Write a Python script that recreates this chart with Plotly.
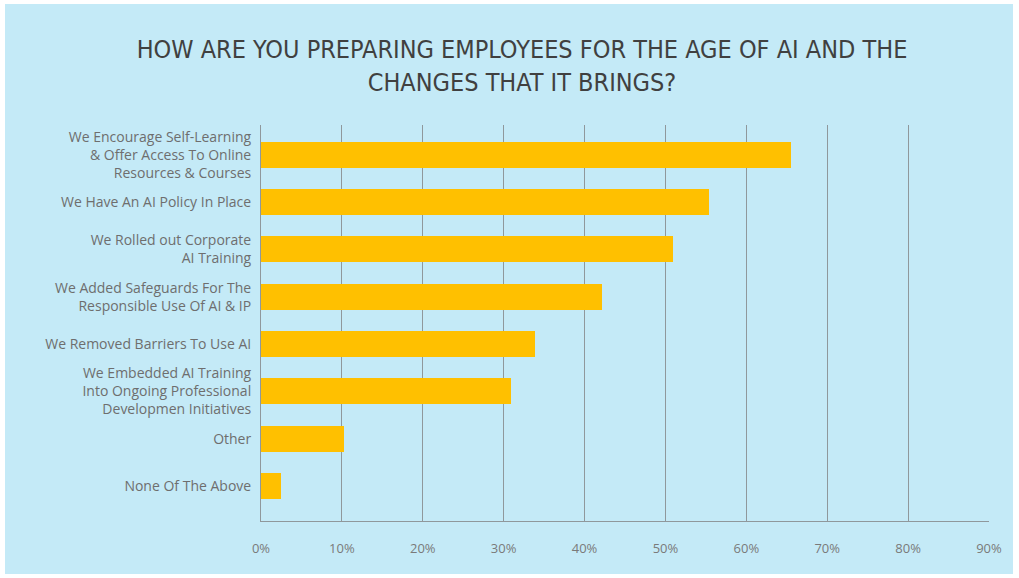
import plotly.graph_objects as go

# Survey answers, listed top to bottom
categories = [
    "We Encourage Self-Learning<br>& Offer Access To Online<br>Resources & Courses",
    "We Have An AI Policy In Place",
    "We Rolled out Corporate<br>AI Training",
    "We Added Safeguards For The<br>Responsible Use Of AI & IP",
    "We Removed Barriers To Use AI",
    "We Embedded AI Training<br>Into Ongoing Professional<br>Developmen Initiatives",
    "Other",
    "None Of The Above",
]
shares = [65.5, 55.4, 50.9, 42.1, 33.9, 30.9, 10.2, 2.5]  # percent of respondents

x_ticks = [0, 10, 20, 30, 40, 50, 60, 70, 80, 90]
x_tick_labels = [f"{v}%" for v in x_ticks]

BG = "#C4EAF7"
BAR = "#FFC000"
GRID = "#8F989C"

W, H = 1019, 578
ML, MR, MT, MB = 261, 30, 125, 57
pw, ph = W - ML - MR, H - MT - MB

fig = go.Figure(
    go.Bar(
        x=shares,
        y=categories,
        orientation="h",
        width=0.55,
        marker=dict(color=BAR, line=dict(width=0)),
        hovertemplate="%{x:.1f}%<extra></extra>",
    )
)

# light-blue card with a thin white frame around it
def px_x(p):
    return (p - ML) / pw

def px_y(p):
    return (H - MB - p) / ph

fig.add_shape(
    type="rect", xref="paper", yref="paper", layer="below",
    x0=px_x(5), x1=px_x(1013), y0=px_y(574), y1=px_y(4),
    fillcolor=BG, line=dict(width=0),
)

fig.update_layout(
    width=W,
    height=H,
    margin=dict(l=ML, r=MR, t=MT, b=MB, pad=0),
    paper_bgcolor="white",
    plot_bgcolor=BG,
    showlegend=False,
    bargap=0,
    title=dict(
        text="HOW ARE YOU PREPARING EMPLOYEES FOR THE AGE OF AI AND THE<br>CHANGES THAT IT BRINGS?",
        x=522 / W,
        xanchor="center",
        y=1 - 58 / H,
        yanchor="top",
        font=dict(family="DejaVu Sans Condensed, Roboto, sans-serif",
                  size=25, color="#404040"),
    ),
    xaxis=dict(
        range=[0, 90],
        tickvals=x_ticks,
        ticktext=x_tick_labels,
        showgrid=True,
        gridcolor=GRID,
        gridwidth=1,
        zeroline=False,
        showline=True,
        linecolor=GRID,
        linewidth=1,
        ticks="",
        ticklabelstandoff=15,
        tickfont=dict(family="Open Sans, sans-serif", size=13, color="#7A7A7A", weight=500),
        fixedrange=True,
    ),
    yaxis=dict(
        categoryorder="array",
        categoryarray=categories,
        range=[7.74, -0.63],
        showgrid=False,
        zeroline=False,
        showline=True,
        linecolor=GRID,
        linewidth=1,
        ticks="",
        ticklabelstandoff=6,
        tickfont=dict(family="Open Sans, sans-serif", size=14, color="#6E6E6E", weight=500),
        fixedrange=True,
    ),
)

fig.write_html("out.html")
